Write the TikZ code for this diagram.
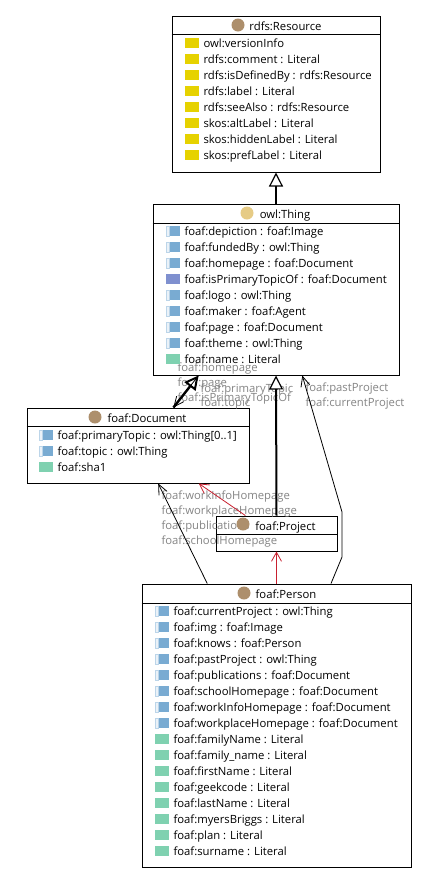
\documentclass[tikz,border=0pt]{standalone}
\usepackage{fontspec}
\setmainfont{Open Sans}
\usetikzlibrary{arrows.meta}
\definecolor{dataCol}{HTML}{E6D200}
\definecolor{objCol}{HTML}{79ABD2}
\definecolor{invCol}{HTML}{7F90CF}
\definecolor{litCol}{HTML}{7FD1B0}
\definecolor{resCol}{HTML}{AD8F6C}
\definecolor{thingCol}{HTML}{E6CB85}
\definecolor{labCol}{HTML}{858585}
\definecolor{rangeCol}{HTML}{C8202F}
\tikzset{
  classbox/.style={draw,line width=1pt,inner sep=0pt},
  rowtext/.style={anchor=base west,inner sep=0pt,font=\fontsize{11.3}{13}\selectfont},
  headtext/.style={anchor=base,inner sep=0pt,font=\fontsize{11.3}{13}\selectfont},
  edgelab/.style={anchor=base west,inner sep=0pt,text=labCol,font=\fontsize{11.3}{13}\selectfont},
  classdot/.style={circle,inner sep=0pt,minimum size=13pt},
  subclass/.style={line width=2pt,-{Triangle[fill=white,line width=1.2pt,length=14pt,width=14pt]}},
  subclassheavy/.style={line width=2.4pt,-{Triangle[fill=white,line width=2pt,length=14pt,width=14pt]}},
  assoc/.style={black,line width=0.8pt,-{Straight Barb[length=10pt,width=9pt,line width=0.8pt]}},
  rangeedge/.style={rangeCol,line width=0.8pt,-{Straight Barb[length=9pt,width=10pt,line width=0.8pt]}},
  dataicon/.style={fill=dataCol},
  liticon/.style={fill=litCol},
  invicon/.style={fill=invCol},
  objicon/.style={fill=objCol,path picture={
    \draw[objCol!50!white,fill=objCol!15!white,line width=0.5pt] (path picture bounding box.north west) rectangle ++(3,10);}},
}
\newcommand{\rowicon}[3]{\path[#1] (#2,#3-5) rectangle ++(14,10);}
\begin{document}
\begin{tikzpicture}[x=1pt,y=-1pt,line width=1pt]
\useasboundingbox (0,0) rectangle (431,879);
\fill[white] (0,0) rectangle (431,879);
\def\rowStep{16}

% class boxes
\node[classbox,minimum width=208pt,minimum height=156pt] (resource) at (276,94) {};
\node[classbox,minimum width=246pt,minimum height=171pt] (thing) at (276,289.5) {};
\node[classbox,minimum width=222pt,minimum height=75pt] (document) at (138,445.5) {};
\node[classbox,minimum width=121pt,minimum height=35pt] (project) at (276.5,533.5) {};
\node[classbox,minimum width=269pt,minimum height=283pt] (person) at (276.5,725.5) {};

% header lines
\draw (resource.west |- 0,34) -- (resource.east |- 0,34);
\draw (thing.west |- 0,223) -- (thing.east |- 0,223);
\draw (document.west |- 0,426) -- (document.east |- 0,426);
\draw (project.west |- 0,534) -- (project.east |- 0,534);
\draw (person.west |- 0,603) -- (person.east |- 0,603);

% connector labels
\node[edgelab] (labHomepage) at (177,371) {foaf:homepage};
\node[edgelab] (labPage) at (177,386) {foaf:page};
\node[edgelab] (labPrimary) at (200,392) {foaf:primaryTopic};
\node[edgelab] (labIsPrimary) at (177,401) {foaf:isPrimaryTopicOf};
\node[edgelab] (labTopic) at (200,406) {foaf:topic};
\node[edgelab] (labPast) at (305,391) {foaf:pastProject};
\node[edgelab] (labCurrent) at (305,406) {foaf:currentProject};
\node[edgelab] (labWorkInfo) at (161,499) {foaf:workInfoHomepage};
\node[edgelab] (labWorkplace) at (161,514) {foaf:workplaceHomepage};
\node[edgelab] (labPublications) at (161,529) {foaf:publications};
\node[edgelab] (labSchool) at (161,544) {foaf:schoolHomepage};

% connectors
\draw[subclass] (thing.north) -- (resource.south);
\draw[subclass] (project.north) -- (thing.south);
\draw[subclassheavy] (document.47.8) -- (thing.228.4);
\draw[assoc] (thing.228.4) -- (document.47.8);
\draw[rangeedge] (person.north) -- (project.south);
\draw[rangeedge] (project.150) -- (document.-32);
\coordinate (bendA) at (342,512);
\coordinate (bendB) at (342,557);
\draw[assoc] (person.69) -- (bendB) -- (bendA) -- (thing.-73);
\draw[assoc] (person.116.2) -- (document.-62.5);

% class titles
\node[classdot,fill=resCol] (resourceD) at (238,25) {};
\node[headtext] (resourceT) at (285.5,30) {rdfs:Resource};
\node[classdot,fill=thingCol] (thingD) at (247,213) {};
\node[headtext] (thingT) at (285,218) {owl:Thing};
\node[classdot,fill=resCol] (documentD) at (95,417) {};
\node[headtext] (documentT) at (147,422) {foaf:Document};
\node[classdot,fill=resCol] (projectD) at (243,524) {};
\node[headtext] (projectT) at (285.5,530) {foaf:Project};
\node[classdot,fill=resCol] (personD) at (244,593) {};
\node[headtext] (personT) at (286,598) {foaf:Person};

% resource rows
\foreach \txt [count=\i from 0] in {owl:versionInfo,rdfs:comment : Literal,rdfs:isDefinedBy : rdfs:Resource,rdfs:label : Literal,rdfs:seeAlso : rdfs:Resource,skos:altLabel : Literal,skos:hiddenLabel : Literal,skos:prefLabel : Literal}{
  \rowicon{dataicon}{185}{43+\rowStep*\i}
  \node[rowtext] (resourceR\i) at (203,47+\rowStep*\i) {\txt};
}
% thing rows
\foreach \kind/\txt [count=\i from 0] in {objicon/foaf:depiction : foaf:Image,objicon/foaf:fundedBy : owl:Thing,objicon/foaf:homepage : foaf:Document,invicon/foaf:isPrimaryTopicOf : foaf:Document,objicon/foaf:logo : owl:Thing,objicon/foaf:maker : foaf:Agent,objicon/foaf:page : foaf:Document,objicon/foaf:theme : owl:Thing,liticon/foaf:name : Literal}{
  \rowicon{\kind}{166}{231+\rowStep*\i}
  \node[rowtext] (thingR\i) at (184,235+\rowStep*\i) {\txt};
}
% document rows
\foreach \kind/\txt [count=\i from 0] in {objicon/foaf:primaryTopic : owl:Thing[0..1],objicon/foaf:topic : owl:Thing,liticon/foaf:sha1}{
  \rowicon{\kind}{39}{435+\rowStep*\i}
  \node[rowtext] (documentR\i) at (57,439+\rowStep*\i) {\txt};
}
% person rows
\foreach \kind/\txt [count=\i from 0] in {objicon/foaf:currentProject : owl:Thing,objicon/foaf:img : foaf:Image,objicon/foaf:knows : foaf:Person,objicon/foaf:pastProject : owl:Thing,objicon/foaf:publications : foaf:Document,objicon/foaf:schoolHomepage : foaf:Document,objicon/foaf:workInfoHomepage : foaf:Document,objicon/foaf:workplaceHomepage : foaf:Document,liticon/foaf:familyName : Literal,liticon/foaf:family\_name : Literal,liticon/foaf:firstName : Literal,liticon/foaf:geekcode : Literal,liticon/foaf:lastName : Literal,liticon/foaf:myersBriggs : Literal,liticon/foaf:plan : Literal,liticon/foaf:surname : Literal}{
  \rowicon{\kind}{155}{611+\rowStep*\i}
  \node[rowtext] (personR\i) at (173,615+\rowStep*\i) {\txt};
}
\end{tikzpicture}
\end{document}
